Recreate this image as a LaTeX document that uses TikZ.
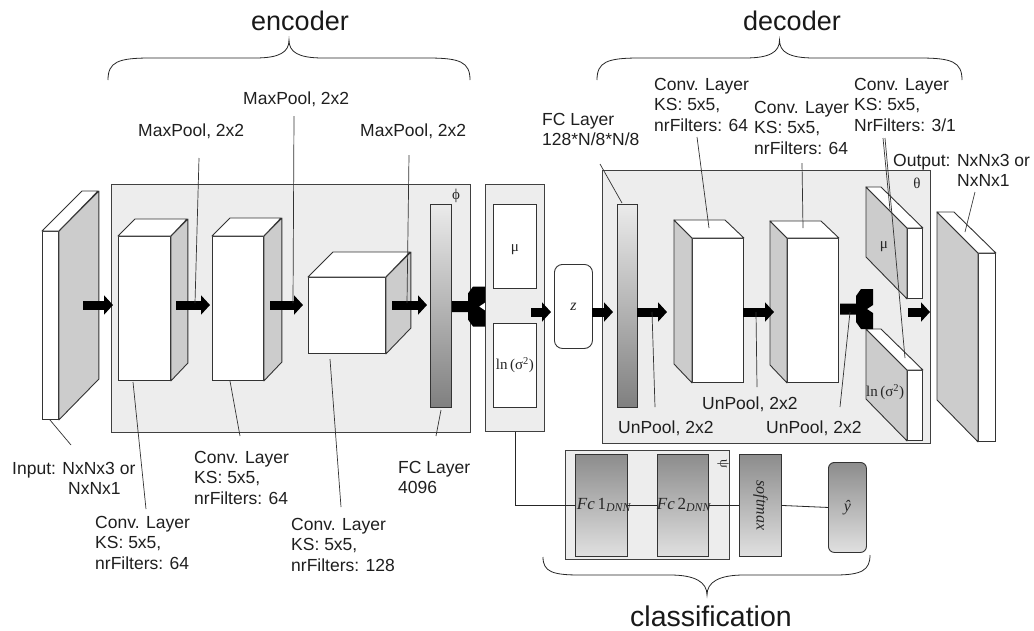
\documentclass[tikz,border=0pt]{standalone}
\usepackage{fontspec}
\setmainfont{Liberation Serif}
\setsansfont{Liberation Sans}
\usetikzlibrary{arrows.meta}

\tikzset{
  panel/.style={draw=black!75, fill=black!7, line width=0.9pt, inner sep=0pt, anchor=north west},
  face/.style={draw=black!80, fill=white, line width=0.9pt, inner sep=0pt, anchor=north west},
  sideface/.style={draw=black!80, fill=black!20, line width=0.9pt, line join=round},
  topface/.style={draw=black!80, fill=white, line width=0.9pt, line join=round},
  fcbar/.style={draw=black!80, line width=0.9pt, inner sep=0pt, anchor=north west,
    top color=black!8, bottom color=black!50},
  clsbox/.style={draw=black!80, line width=0.9pt, inner sep=0pt, anchor=north west,
    top color=black!45, bottom color=black!12},
  fat/.style={line width=9pt, -{Triangle[length=9pt,width=19pt]}},
  leader/.style={draw=black!80, line width=0.7pt},
  wire/.style={draw=black!85, line width=0.8pt},
  lbl/.style={font=\sffamily\fontsize{17.5}{20.5}\selectfont, inner sep=0pt,
    anchor=north west, align=left, text=black!88},
  big/.style={font=\sffamily\fontsize{27}{30}\selectfont, inner sep=0pt, anchor=base, text=black!90},
  sym/.style={font=\fontsize{15}{17}\selectfont, inner sep=0pt, text=black!85},
  brace/.style={draw=black!85, line width=0.8pt},
}

% front face as a node, side face on the right, top face
\newcommand\cubR[6]{%
  \node[face, minimum width=#4pt, minimum height=#5pt] (#1) at (#2,#3) {};
  \draw[sideface] (#1.north east) -- ++(#6,-#6) -- ++(0,#5) -- (#1.south east) -- cycle;
  \draw[topface] (#1.north west) -- ++(#6,-#6) -- ++(#4,0) -- (#1.north east) -- cycle;
}
% front face as a node, side face on the left, top face
\newcommand\cubL[6]{%
  \node[face, minimum width=#4pt, minimum height=#5pt] (#1) at (#2,#3) {};
  \draw[sideface] (#1.north west) -- ++(-#6,-#6) -- ++(0,#5) -- (#1.south west) -- cycle;
  \draw[topface] (#1.north west) -- ++(-#6,-#6) -- ++(#4,0) -- (#1.north east) -- cycle;
}
% black fork arrow splitting one stream into two
\newcommand\forkarrow[2]{%
  \fill[black] (#1,#2) ++(0,-5.5) -- ++(16,0) -- ++(0,-7.5) -- ++(5,-7) -- ++(12,0)
    -- ++(0,16) -- ++(-6,4) -- ++(6,4) -- ++(0,16) -- ++(-12,0) -- ++(-5,-7)
    -- ++(0,-7.5) -- ++(-16,0) -- cycle;
}
% thin leader line between two named points
\newcommand\leadline[3]{%
  \coordinate (#1-a) at (#2);
  \coordinate (#1-b) at (#3);
  \draw[leader] (#1-a) -- (#1-b);
}
% fat arrow between two named points
\newcommand\fatarrow[3]{%
  \coordinate (#1-a) at (#2);
  \coordinate (#1-b) at (#3);
  \draw[fat] (#1-a) -- (#1-b);
}

\begin{document}
\begin{tikzpicture}[x=1pt,y=-1pt]
\useasboundingbox (0,0) rectangle (1034,630);
\fill[white] (0,0) rectangle (1034,630);

% ---------- panels ----------
\node[panel, minimum width=359pt, minimum height=248pt] (enc) at (111,184) {};
\node[panel, minimum width=59pt, minimum height=247pt] (lat) at (485,184) {};
\node[panel, minimum width=328pt, minimum height=273pt] (dec) at (602,170) {};
\node[panel, minimum width=164pt, minimum height=109pt] (cls) at (565,450) {};

\node[sym] (phi) at (456,196) {ϕ};
\node[sym] (theta) at (917,183) {θ};
\node[sym, rotate=-90, font=\fontsize{14}{16}\selectfont] (psi) at (723,464) {ψ};

% ---------- encoder ----------
\cubR{inp}{42}{231}{16}{188}{40}
\cubR{c1}{118}{236}{52}{144}{17}
\cubR{c2}{212}{236}{51}{144}{18}
\cubR{c3}{308}{277}{77}{76}{25}
\node[fcbar, minimum width=21pt, minimum height=203pt] (fce) at (430,204) {};

\fatarrow{ea1}{83,305}{113,305}
\fatarrow{ea2}{176,305}{210,305}
\fatarrow{ea3}{270,305}{303,305}
\fatarrow{ea4}{392,305}{427,305}
\forkarrow{452}{306.5}

% ---------- latent ----------
\node[face, minimum width=43pt, minimum height=84pt] (mu) at (493,204) {};
\node[face, minimum width=43pt, minimum height=84pt] (lnv) at (493,323) {};
\node[sym] at ([yshift=-3pt]mu.center) {μ};
\node[sym] at (lnv.center) {ln\,(σ\textsuperscript{2})};
\node[draw=black!80, fill=white, line width=0.9pt, rounded corners=8pt, inner sep=0pt,
  anchor=north west, minimum width=38pt, minimum height=84pt] (z) at (554,264) {};
\node[sym, font=\itshape\fontsize{16}{18}\selectfont] at (z.center) {z};
\fatarrow{la1}{531,312}{551,312}
\fatarrow{la2}{592,312}{613,312}

% ---------- decoder ----------
\node[fcbar, minimum width=20pt, minimum height=203pt] (fcd) at (617,204) {};
\cubL{d1}{692}{238}{51}{144}{18}
\cubL{d2}{787}{238}{51}{144}{17}
\cubL{omu}{907}{228}{15}{70}{41}
\cubL{oln}{907}{370}{15}{70}{41}
\cubL{out}{978}{253}{17}{188}{41}
\node[sym] at (884,247) {μ};
\node[sym, anchor=west] at (866,392) {ln\,(σ\textsuperscript{2})};

\fatarrow{da1}{637,312}{667,312}
\fatarrow{da2}{743,312}{774,312}
\forkarrow{840}{309}
\fatarrow{da3}{908,312}{930,312}

% ---------- classification ----------
\node[clsbox, minimum width=52pt, minimum height=102pt] (fc1) at (575,454) {};
\node[clsbox, minimum width=51pt, minimum height=102pt] (fc2) at (657,454) {};
\node[clsbox, minimum width=42pt, minimum height=102pt] (sm) at (739,454) {};
\node[clsbox, rounded corners=6pt, minimum width=38pt, minimum height=90pt] (yh) at (828,462) {};
\node[sym, font=\fontsize{17}{19}\selectfont] at (604,505) {\textit{Fc}\,1\textsubscript{\itshape DNN}};
\node[sym, font=\fontsize{17}{19}\selectfont] at (684,505) {\textit{Fc}\,2\textsubscript{\itshape DNN}};
\node[sym, rotate=-90, font=\itshape\fontsize{16}{18}\selectfont] at (sm.center) {softmax};
\node[sym, font=\itshape\fontsize{16}{18}\selectfont] at (yh.center) {ŷ};

\draw[wire] (lat.south) |- (fc1.west);
\draw[wire] (fc1.east) -- (fc2.west);
\draw[wire] (fc2.east) -- (sm.west);
\draw[wire] (sm.east) -- (yh.west);

% ---------- braces and titles ----------
\draw[brace] (108,80) .. controls (108,62) and (118,58) .. (150,58) -- (255,58)
  .. controls (280,58) and (289,52) .. (289,40) .. controls (289,52) and (298,58) .. (323,58)
  -- (428,58) .. controls (460,58) and (470,62) .. (470,80);
\draw[brace] (597,80) .. controls (597,62) and (607,58) .. (639,58) -- (745,58)
  .. controls (770,58) and (779.5,52) .. (779.5,40) .. controls (779.5,52) and (789,58) .. (814,58)
  -- (920,58) .. controls (952,58) and (962,62) .. (962,80);
\draw[brace] (543,557) .. controls (543,572) and (553,575) .. (580,575) -- (670,575)
  .. controls (695,575) and (707,582) .. (707,595) .. controls (707,582) and (719,575) .. (744,575)
  -- (835,575) .. controls (862,575) and (870,570) .. (870,555);
\node[big] (tenc) at (300,30) {encoder};
\node[big] (tdec) at (792,30) {decoder};
\node[big, font=\sffamily\fontsize{28.5}{31}\selectfont] (tcls) at (711,626) {classification};

% ---------- labels ----------
\node[lbl] (lmp1) at (138,124) {MaxPool, 2x2};
\node[lbl] (lmp2) at (243,92) {MaxPool, 2x2};
\node[lbl] (lmp3) at (360,124) {MaxPool, 2x2};
\node[lbl] (linp) at (12,462) {Input: NxNx3 or\\\hspace*{56pt}NxNx1};
\node[lbl] (lc1) at (95,516) {Conv. Layer\\KS: 5x5,\\nrFilters: 64};
\node[lbl] (lc2) at (194,451) {Conv. Layer\\KS: 5x5,\\nrFilters: 64};
\node[lbl] (lc3) at (291,518) {Conv. Layer\\KS: 5x5,\\nrFilters: 128};
\node[lbl] (lfce) at (398,461) {FC Layer\\4096};
\node[lbl] (lfcd) at (542,113) {FC Layer\\128*N/8*N/8};
\node[lbl] (ld1) at (654,78) {Conv. Layer\\KS: 5x5,\\nrFilters: 64};
\node[lbl] (ld2) at (754,101) {Conv. Layer\\KS: 5x5,\\nrFilters: 64};
\node[lbl] (ld3) at (854,78) {Conv. Layer\\KS: 5x5,\\NrFilters: 3/1};
\node[lbl] (lout) at (893,154) {Output: NxNx3 or\\\hspace*{64pt}NxNx1};
\node[lbl] (lup1) at (618,421) {UnPool, 2x2};
\node[lbl] (lup2) at (702,397) {UnPool, 2x2};
\node[lbl] (lup3) at (766,421) {UnPool, 2x2};

% ---------- leader lines ----------
\leadline{kinp}{50,420}{71,445}
\leadline{kc1}{133,382}{146,509}
\leadline{kc2}{230,381}{240,436}
\leadline{kc3}{330,359}{341,507}
\leadline{kfce}{441,410}{436,436}
\leadline{kmp1}{199,158}{195,303}
\leadline{kmp2}{294,116}{293,303}
\leadline{kmp3}{409,155}{407,303}
\leadline{kfcd}{600,164}{622,203}
\leadline{kd1}{697,137}{709,228}
\leadline{kd2}{802,163}{803,228}
\leadline{kd3a}{883,138}{890,210}
\leadline{kd3b}{885,138}{905,358}
\leadline{kout}{975,192}{965,232}
\leadline{kup1}{652,312}{655,407}
\leadline{kup2}{756,312}{757,387}
\leadline{kup3}{850,312}{840,407}
\end{tikzpicture}
\end{document}
